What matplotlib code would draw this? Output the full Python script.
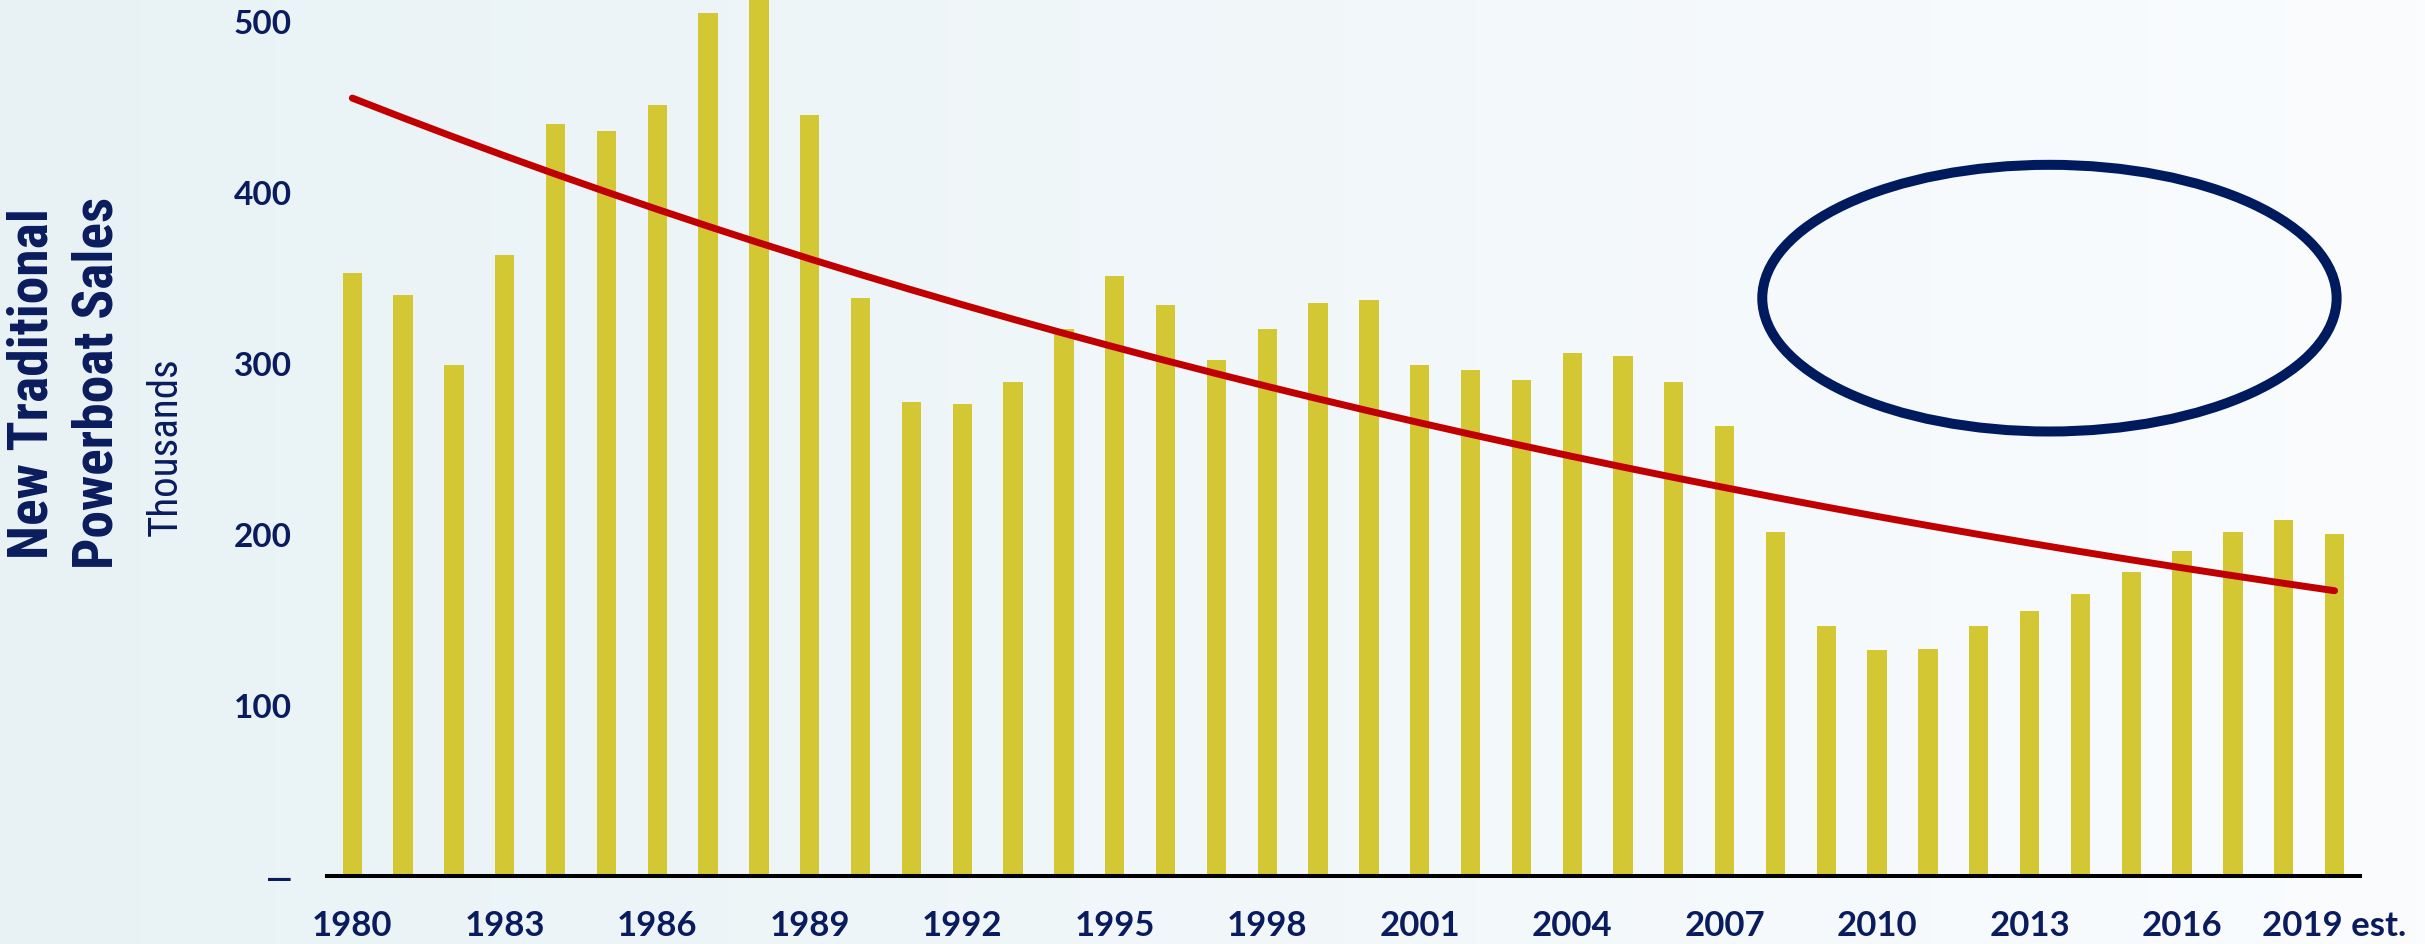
import numpy as np
import matplotlib
matplotlib.use("Agg")
from matplotlib import pyplot as plt
from matplotlib.patches import Ellipse
from matplotlib.colors import LinearSegmentedColormap

# new traditional powerboat sales, thousands
years = list(range(1980, 2020))
sales = [353, 340, 299, 363, 440, 436, 451, 505, 530, 445,
         338, 277, 276, 289, 320, 351, 334, 302, 320, 335,
         337, 299, 296, 290, 306, 304, 289, 263, 201, 146,
         132, 133, 146, 155, 165, 178, 190, 201, 208, 200]
tick_years = list(range(1980, 2020, 3))
tick_labels = [str(y) for y in tick_years[:-1]] + ["2019 est."]
y_ticks = [0, 100, 200, 300, 400, 500]
y_tick_labels = ["\u2014", "100", "200", "300", "400", "500"]

navy = "#0b1c5e"
bar_color = "#d3c733"
trend_color = "#c00000"
cond = ["Roboto Condensed", "DejaVu Sans"]
tick_font = ["Lato", "DejaVu Sans"]

fig = plt.figure(figsize=(24.25, 9.45), dpi=100)

# background gradient
bg = fig.add_axes([0, 0, 1, 1], zorder=-10)
cmap = LinearSegmentedColormap.from_list("bg", ["#e8f2f5", "#fafcfe"])
bg.imshow(np.linspace(0, 1, 256).reshape(1, -1), cmap=cmap, aspect="auto", extent=[0, 1, 0, 1])
bg.axis("off")

ax = fig.add_axes([0.1348, 0.072, 0.8384, 0.928])
ax.patch.set_alpha(0)

x = np.arange(len(years))
ax.bar(x, sales, width=0.38, color=bar_color, zorder=2)

# exponential trendline (least squares on log values)
k, b = np.polyfit(x, np.log(sales), 1)
ax.plot(x, np.exp(b + k * x), color=trend_color, lw=5, solid_capstyle="round", zorder=3)

ax.add_patch(Ellipse((33.39, 338), 11.3, 156, fill=False, ec="#001a5e", lw=7.2,
                     clip_on=False, zorder=4))

ax.set_xlim(-0.5, 39.5)
ax.set_ylim(0, 513)
ax.set_xticks([y - 1980 for y in tick_years])
ax.set_xticklabels(tick_labels, fontsize=25, fontweight="bold", color=navy, family=tick_font)
ax.set_yticks(y_ticks)
ax.set_yticklabels(y_tick_labels, fontsize=24, fontweight="bold", color=navy, family=tick_font)
ax.tick_params(axis="x", length=0, pad=24)
ax.tick_params(axis="y", length=0, pad=25)
for s in ["top", "right", "left"]:
    ax.spines[s].set_visible(False)
ax.spines["bottom"].set_linewidth(2.9)
ax.spines["bottom"].set_color("black")
ax.spines["bottom"].set_zorder(5)

fig.text(32.5 / 2425, 1 - 383.5 / 945, "New Traditional", rotation=90, ha="center", va="center",
         fontsize=40, fontweight="bold", color=navy, family=cond)
fig.text(98 / 2425, 1 - 383 / 945, "Powerboat Sales", rotation=90, ha="center", va="center",
         fontsize=40, fontweight="bold", color=navy, family=cond)
fig.text(165 / 2425, 1 - 447 / 945, "Thousands", rotation=90, ha="center", va="center",
         fontsize=29.5, color=navy, family=cond)

fig.savefig("out.png", dpi=100)
